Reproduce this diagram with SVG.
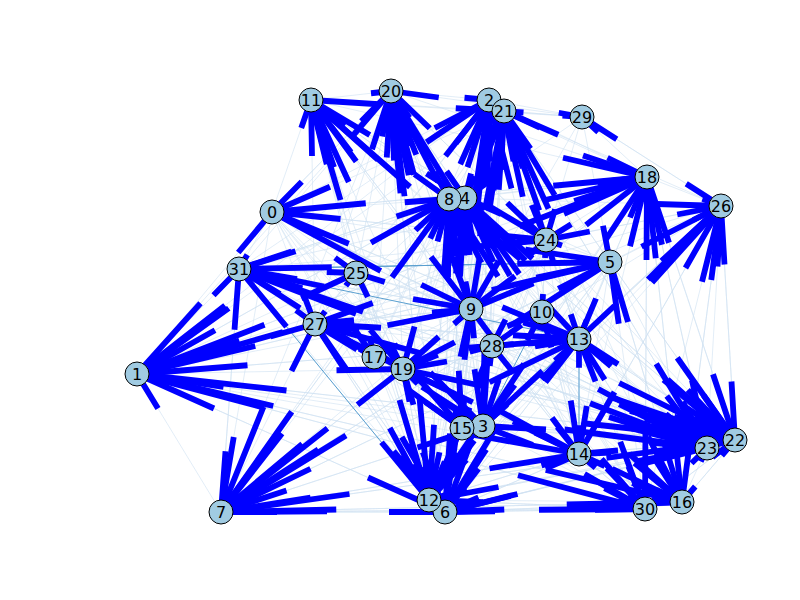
<svg xmlns="http://www.w3.org/2000/svg" xmlns:xlink="http://www.w3.org/1999/xlink" width="800" height="600" viewBox="0 0 800 600">
<style>
.thin{fill:none;stroke:#cfe1f2;stroke-width:1;stroke-opacity:.6}
.thind{fill:none;stroke:#5a9fcf;stroke-width:1}
.stub{fill:none;stroke:#0000ff;stroke-width:5.8;stroke-dasharray:0 3 1 0;stroke-linecap:butt}
.node circle{fill:#a0cbe2;stroke:#000;stroke-width:1}
.node text{font-family:"DejaVu Sans",Verdana,sans-serif;font-size:16px;text-anchor:middle;fill:#000}
</style>
<defs>
<g id="E1">
<path pathLength="4" d="M391 91L272 212"/><path pathLength="4" d="M504 111L272 212"/><path pathLength="4" d="M647 177L272 212"/><path pathLength="4" d="M546 240L272 212"/><path pathLength="4" d="M579 339L272 212"/><path pathLength="4" d="M137 374L272 212"/><path pathLength="4" d="M707 448L272 212"/><path pathLength="4" d="M471 309L272 212"/>
<path pathLength="4" d="M391 91L137 374"/><path pathLength="4" d="M504 111L137 374"/><path pathLength="4" d="M449 199L137 374"/><path pathLength="4" d="M647 177L137 374"/><path pathLength="4" d="M579 339L137 374"/><path pathLength="4" d="M735 440L137 374"/><path pathLength="4" d="M221 512L137 374"/><path pathLength="4" d="M445 512L137 374"/><path pathLength="4" d="M682 502L137 374"/><path pathLength="4" d="M610 262L137 374"/><path pathLength="4" d="M546 240L137 374"/><path pathLength="4" d="M721 206L137 374"/><path pathLength="4" d="M483 426L137 374"/><path pathLength="4" d="M645 509L137 374"/><path pathLength="4" d="M489 100L137 374"/>
<path pathLength="4" d="M391 91L489 100"/><path pathLength="4" d="M272 212L489 100"/><path pathLength="4" d="M239 269L489 100"/><path pathLength="4" d="M356 273L489 100"/><path pathLength="4" d="M374 357L489 100"/><path pathLength="4" d="M471 309L489 100"/><path pathLength="4" d="M492 346L489 100"/><path pathLength="4" d="M483 426L489 100"/><path pathLength="4" d="M429 500L489 100"/><path pathLength="4" d="M403 369L489 100"/><path pathLength="4" d="M579 454L489 100"/><path pathLength="4" d="M315 324L489 100"/><path pathLength="4" d="M462 428L489 100"/><path pathLength="4" d="M445 512L489 100"/>
<path pathLength="4" d="M504 111L483 426"/><path pathLength="4" d="M489 100L483 426"/><path pathLength="4" d="M449 199L483 426"/><path pathLength="4" d="M272 212L483 426"/><path pathLength="4" d="M239 269L483 426"/><path pathLength="4" d="M315 324L483 426"/><path pathLength="4" d="M579 339L483 426"/><path pathLength="4" d="M610 262L483 426"/><path pathLength="4" d="M721 206L483 426"/><path pathLength="4" d="M735 440L483 426"/><path pathLength="4" d="M682 502L483 426"/><path pathLength="4" d="M221 512L483 426"/><path pathLength="4" d="M647 177L483 426"/><path pathLength="4" d="M546 240L483 426"/>
<path pathLength="4" d="M311 100L465 198"/><path pathLength="4" d="M391 91L465 198"/><path pathLength="4" d="M489 100L465 198"/><path pathLength="4" d="M504 111L465 198"/><path pathLength="4" d="M582 117L465 198"/><path pathLength="4" d="M546 240L465 198"/><path pathLength="4" d="M610 262L465 198"/><path pathLength="4" d="M579 339L465 198"/><path pathLength="4" d="M492 346L465 198"/><path pathLength="4" d="M542 312L465 198"/><path pathLength="4" d="M483 426L465 198"/><path pathLength="4" d="M579 454L465 198"/><path pathLength="4" d="M645 509L465 198"/><path pathLength="4" d="M682 502L465 198"/><path pathLength="4" d="M707 448L465 198"/><path pathLength="4" d="M735 440L465 198"/><path pathLength="4" d="M445 512L465 198"/><path pathLength="4" d="M429 500L465 198"/><path pathLength="4" d="M462 428L465 198"/><path pathLength="4" d="M403 369L465 198"/><path pathLength="4" d="M471 309L465 198"/>
<path pathLength="4" d="M682 502L610 262"/><path pathLength="4" d="M645 509L610 262"/><path pathLength="4" d="M403 369L610 262"/><path pathLength="4" d="M582 117L610 262"/><path pathLength="4" d="M315 324L610 262"/><path pathLength="4" d="M137 374L610 262"/><path pathLength="4" d="M221 512L610 262"/><path pathLength="4" d="M272 212L610 262"/>
<path pathLength="4" d="M137 374L445 512"/><path pathLength="4" d="M221 512L445 512"/><path pathLength="4" d="M239 269L445 512"/><path pathLength="4" d="M315 324L445 512"/><path pathLength="4" d="M374 357L445 512"/><path pathLength="4" d="M356 273L445 512"/><path pathLength="4" d="M471 309L445 512"/><path pathLength="4" d="M272 212L445 512"/><path pathLength="4" d="M579 454L445 512"/><path pathLength="4" d="M735 440L445 512"/><path pathLength="4" d="M645 509L445 512"/><path pathLength="4" d="M682 502L445 512"/><path pathLength="4" d="M707 448L445 512"/><path pathLength="4" d="M579 339L445 512"/><path pathLength="4" d="M489 100L445 512"/><path pathLength="4" d="M504 111L445 512"/><path pathLength="4" d="M465 198L445 512"/><path pathLength="4" d="M647 177L445 512"/><path pathLength="4" d="M610 262L445 512"/><path pathLength="4" d="M546 240L445 512"/>
<path pathLength="4" d="M239 269L221 512"/><path pathLength="4" d="M272 212L221 512"/><path pathLength="4" d="M391 91L221 512"/><path pathLength="4" d="M504 111L221 512"/><path pathLength="4" d="M449 199L221 512"/><path pathLength="4" d="M465 198L221 512"/><path pathLength="4" d="M647 177L221 512"/><path pathLength="4" d="M610 262L221 512"/><path pathLength="4" d="M579 339L221 512"/><path pathLength="4" d="M546 240L221 512"/><path pathLength="4" d="M483 426L221 512"/><path pathLength="4" d="M735 440L221 512"/><path pathLength="4" d="M682 502L221 512"/><path pathLength="4" d="M445 512L221 512"/><path pathLength="4" d="M645 509L221 512"/><path pathLength="4" d="M579 454L221 512"/><path pathLength="4" d="M721 206L221 512"/>
<path pathLength="4" d="M311 100L449 199"/><path pathLength="4" d="M391 91L449 199"/><path pathLength="4" d="M272 212L449 199"/><path pathLength="4" d="M239 269L449 199"/><path pathLength="4" d="M315 324L449 199"/><path pathLength="4" d="M137 374L449 199"/><path pathLength="4" d="M374 357L449 199"/><path pathLength="4" d="M483 426L449 199"/><path pathLength="4" d="M462 428L449 199"/><path pathLength="4" d="M429 500L449 199"/><path pathLength="4" d="M445 512L449 199"/><path pathLength="4" d="M735 440L449 199"/><path pathLength="4" d="M645 509L449 199"/><path pathLength="4" d="M403 369L449 199"/><path pathLength="4" d="M221 512L449 199"/><path pathLength="4" d="M492 346L449 199"/><path pathLength="4" d="M471 309L449 199"/><path pathLength="4" d="M579 454L449 199"/>
<path pathLength="4" d="M391 91L471 309"/><path pathLength="4" d="M311 100L471 309"/><path pathLength="4" d="M449 199L471 309"/><path pathLength="4" d="M504 111L471 309"/><path pathLength="4" d="M239 269L471 309"/><path pathLength="4" d="M315 324L471 309"/><path pathLength="4" d="M403 369L471 309"/><path pathLength="4" d="M429 500L471 309"/><path pathLength="4" d="M445 512L471 309"/><path pathLength="4" d="M483 426L471 309"/><path pathLength="4" d="M579 454L471 309"/><path pathLength="4" d="M721 206L471 309"/><path pathLength="4" d="M647 177L471 309"/><path pathLength="4" d="M582 117L471 309"/><path pathLength="4" d="M137 374L471 309"/><path pathLength="4" d="M272 212L471 309"/>
<path pathLength="4" d="M546 240L542 312"/><path pathLength="4" d="M579 454L542 312"/><path pathLength="4" d="M403 369L542 312"/>
<path pathLength="4" d="M272 212L311 100"/><path pathLength="4" d="M315 324L311 100"/><path pathLength="4" d="M429 500L311 100"/><path pathLength="4" d="M462 428L311 100"/><path pathLength="4" d="M546 240L311 100"/><path pathLength="4" d="M582 117L311 100"/><path pathLength="4" d="M707 448L311 100"/><path pathLength="4" d="M579 339L311 100"/><path pathLength="4" d="M356 273L311 100"/><path pathLength="4" d="M471 309L311 100"/><path pathLength="4" d="M403 369L311 100"/><path pathLength="4" d="M374 357L311 100"/><path pathLength="4" d="M492 346L311 100"/><path pathLength="4" d="M449 199L311 100"/>
<path pathLength="4" d="M311 100L429 500"/><path pathLength="4" d="M272 212L429 500"/><path pathLength="4" d="M315 324L429 500"/><path pathLength="4" d="M374 357L429 500"/><path pathLength="4" d="M403 369L429 500"/><path pathLength="4" d="M356 273L429 500"/><path pathLength="4" d="M449 199L429 500"/><path pathLength="4" d="M471 309L429 500"/><path pathLength="4" d="M492 346L429 500"/><path pathLength="4" d="M391 91L429 500"/><path pathLength="4" d="M546 240L429 500"/><path pathLength="4" d="M579 339L429 500"/><path pathLength="4" d="M579 454L429 500"/><path pathLength="4" d="M645 509L429 500"/><path pathLength="4" d="M542 312L429 500"/><path pathLength="4" d="M647 177L429 500"/><path pathLength="4" d="M707 448L429 500"/><path pathLength="4" d="M610 262L429 500"/>
<path pathLength="4" d="M137 374L579 339"/><path pathLength="4" d="M272 212L579 339"/><path pathLength="4" d="M315 324L579 339"/><path pathLength="4" d="M356 273L579 339"/><path pathLength="4" d="M403 369L579 339"/><path pathLength="4" d="M374 357L579 339"/><path pathLength="4" d="M471 309L579 339"/><path pathLength="4" d="M449 199L579 339"/><path pathLength="4" d="M546 240L579 339"/><path pathLength="4" d="M610 262L579 339"/><path pathLength="4" d="M647 177L579 339"/><path pathLength="4" d="M721 206L579 339"/><path pathLength="4" d="M735 440L579 339"/><path pathLength="4" d="M707 448L579 339"/><path pathLength="4" d="M682 502L579 339"/><path pathLength="4" d="M579 454L579 339"/><path pathLength="4" d="M645 509L579 339"/><path pathLength="4" d="M429 500L579 339"/><path pathLength="4" d="M445 512L579 339"/><path pathLength="4" d="M221 512L579 339"/>
<path pathLength="4" d="M239 269L579 454"/><path pathLength="4" d="M315 324L579 454"/><path pathLength="4" d="M403 369L579 454"/><path pathLength="4" d="M471 309L579 454"/><path pathLength="4" d="M492 346L579 454"/><path pathLength="4" d="M735 440L579 454"/><path pathLength="4" d="M707 448L579 454"/><path pathLength="4" d="M682 502L579 454"/><path pathLength="4" d="M645 509L579 454"/><path pathLength="4" d="M445 512L579 454"/><path pathLength="4" d="M429 500L579 454"/><path pathLength="4" d="M137 374L579 454"/><path pathLength="4" d="M610 262L579 454"/><path pathLength="4" d="M721 206L579 454"/><path pathLength="4" d="M546 240L579 454"/><path pathLength="4" d="M221 512L579 454"/>
<path pathLength="4" d="M239 269L462 428"/><path pathLength="4" d="M315 324L462 428"/><path pathLength="4" d="M471 309L462 428"/><path pathLength="4" d="M492 346L462 428"/><path pathLength="4" d="M449 199L462 428"/><path pathLength="4" d="M272 212L462 428"/>
<path pathLength="4" d="M579 339L682 502"/><path pathLength="4" d="M579 454L682 502"/><path pathLength="4" d="M492 346L682 502"/><path pathLength="4" d="M403 369L682 502"/><path pathLength="4" d="M483 426L682 502"/><path pathLength="4" d="M471 309L682 502"/><path pathLength="4" d="M610 262L682 502"/><path pathLength="4" d="M546 240L682 502"/><path pathLength="4" d="M735 440L682 502"/><path pathLength="4" d="M647 177L682 502"/><path pathLength="4" d="M721 206L682 502"/><path pathLength="4" d="M137 374L682 502"/><path pathLength="4" d="M221 512L682 502"/><path pathLength="4" d="M445 512L682 502"/><path pathLength="4" d="M429 500L682 502"/>
<path pathLength="4" d="M272 212L374 357"/><path pathLength="4" d="M239 269L374 357"/><path pathLength="4" d="M315 324L374 357"/><path pathLength="4" d="M356 273L374 357"/><path pathLength="4" d="M471 309L374 357"/>
<path pathLength="4" d="M311 100L647 177"/><path pathLength="4" d="M391 91L647 177"/><path pathLength="4" d="M489 100L647 177"/><path pathLength="4" d="M239 269L647 177"/><path pathLength="4" d="M315 324L647 177"/><path pathLength="4" d="M403 369L647 177"/><path pathLength="4" d="M356 273L647 177"/><path pathLength="4" d="M579 454L647 177"/><path pathLength="4" d="M645 509L647 177"/><path pathLength="4" d="M707 448L647 177"/><path pathLength="4" d="M735 440L647 177"/><path pathLength="4" d="M682 502L647 177"/><path pathLength="4" d="M483 426L647 177"/><path pathLength="4" d="M579 339L647 177"/><path pathLength="4" d="M272 212L647 177"/><path pathLength="4" d="M449 199L647 177"/><path pathLength="4" d="M465 198L647 177"/><path pathLength="4" d="M137 374L647 177"/>
<path pathLength="4" d="M272 212L403 369"/><path pathLength="4" d="M239 269L403 369"/><path pathLength="4" d="M315 324L403 369"/><path pathLength="4" d="M137 374L403 369"/><path pathLength="4" d="M356 273L403 369"/><path pathLength="4" d="M471 309L403 369"/><path pathLength="4" d="M492 346L403 369"/><path pathLength="4" d="M579 339L403 369"/><path pathLength="4" d="M542 312L403 369"/><path pathLength="4" d="M483 426L403 369"/><path pathLength="4" d="M462 428L403 369"/><path pathLength="4" d="M429 500L403 369"/><path pathLength="4" d="M445 512L403 369"/><path pathLength="4" d="M221 512L403 369"/><path pathLength="4" d="M579 454L403 369"/><path pathLength="4" d="M546 240L403 369"/><path pathLength="4" d="M449 199L403 369"/><path pathLength="4" d="M735 440L403 369"/><path pathLength="4" d="M682 502L403 369"/><path pathLength="4" d="M610 262L403 369"/>
<path pathLength="4" d="M582 117L391 91"/><path pathLength="4" d="M311 100L391 91"/><path pathLength="4" d="M272 212L391 91"/><path pathLength="4" d="M239 269L391 91"/><path pathLength="4" d="M315 324L391 91"/><path pathLength="4" d="M449 199L391 91"/><path pathLength="4" d="M465 198L391 91"/><path pathLength="4" d="M471 309L391 91"/><path pathLength="4" d="M356 273L391 91"/><path pathLength="4" d="M374 357L391 91"/><path pathLength="4" d="M546 240L391 91"/><path pathLength="4" d="M492 346L391 91"/><path pathLength="4" d="M429 500L391 91"/><path pathLength="4" d="M445 512L391 91"/><path pathLength="4" d="M462 428L391 91"/><path pathLength="4" d="M483 426L391 91"/><path pathLength="4" d="M579 454L391 91"/><path pathLength="4" d="M645 509L391 91"/><path pathLength="4" d="M403 369L391 91"/>
<path pathLength="4" d="M311 100L504 111"/><path pathLength="4" d="M582 117L504 111"/><path pathLength="4" d="M721 206L504 111"/><path pathLength="4" d="M449 199L504 111"/><path pathLength="4" d="M465 198L504 111"/><path pathLength="4" d="M471 309L504 111"/><path pathLength="4" d="M492 346L504 111"/><path pathLength="4" d="M579 339L504 111"/><path pathLength="4" d="M542 312L504 111"/><path pathLength="4" d="M579 454L504 111"/><path pathLength="4" d="M483 426L504 111"/><path pathLength="4" d="M462 428L504 111"/><path pathLength="4" d="M546 240L504 111"/><path pathLength="4" d="M610 262L504 111"/><path pathLength="4" d="M647 177L504 111"/><path pathLength="4" d="M445 512L504 111"/><path pathLength="4" d="M645 509L504 111"/><path pathLength="4" d="M682 502L504 111"/><path pathLength="4" d="M707 448L504 111"/><path pathLength="4" d="M429 500L504 111"/><path pathLength="4" d="M403 369L504 111"/>
<path pathLength="4" d="M272 212L735 440"/><path pathLength="4" d="M239 269L735 440"/><path pathLength="4" d="M315 324L735 440"/><path pathLength="4" d="M403 369L735 440"/><path pathLength="4" d="M374 357L735 440"/><path pathLength="4" d="M471 309L735 440"/><path pathLength="4" d="M492 346L735 440"/><path pathLength="4" d="M579 339L735 440"/><path pathLength="4" d="M610 262L735 440"/><path pathLength="4" d="M647 177L735 440"/><path pathLength="4" d="M546 240L735 440"/><path pathLength="4" d="M483 426L735 440"/><path pathLength="4" d="M579 454L735 440"/><path pathLength="4" d="M429 500L735 440"/><path pathLength="4" d="M445 512L735 440"/><path pathLength="4" d="M645 509L735 440"/><path pathLength="4" d="M682 502L735 440"/><path pathLength="4" d="M462 428L735 440"/><path pathLength="4" d="M449 199L735 440"/><path pathLength="4" d="M465 198L735 440"/><path pathLength="4" d="M542 312L735 440"/><path pathLength="4" d="M721 206L735 440"/><path pathLength="4" d="M137 374L735 440"/><path pathLength="4" d="M221 512L735 440"/><path pathLength="4" d="M504 111L735 440"/>
<path pathLength="4" d="M315 324L707 448"/><path pathLength="4" d="M403 369L707 448"/><path pathLength="4" d="M471 309L707 448"/><path pathLength="4" d="M492 346L707 448"/><path pathLength="4" d="M579 339L707 448"/><path pathLength="4" d="M546 240L707 448"/><path pathLength="4" d="M610 262L707 448"/><path pathLength="4" d="M647 177L707 448"/><path pathLength="4" d="M579 454L707 448"/><path pathLength="4" d="M483 426L707 448"/><path pathLength="4" d="M429 500L707 448"/><path pathLength="4" d="M645 509L707 448"/><path pathLength="4" d="M682 502L707 448"/><path pathLength="4" d="M542 312L707 448"/><path pathLength="4" d="M239 269L707 448"/><path pathLength="4" d="M272 212L707 448"/><path pathLength="4" d="M356 273L707 448"/><path pathLength="4" d="M137 374L707 448"/><path pathLength="4" d="M445 512L707 448"/><path pathLength="4" d="M504 111L707 448"/>
<path pathLength="4" d="M489 100L546 240"/><path pathLength="4" d="M504 111L546 240"/><path pathLength="4" d="M391 91L546 240"/><path pathLength="4" d="M311 100L546 240"/><path pathLength="4" d="M272 212L546 240"/><path pathLength="4" d="M239 269L546 240"/><path pathLength="4" d="M471 309L546 240"/><path pathLength="4" d="M579 339L546 240"/><path pathLength="4" d="M610 262L546 240"/><path pathLength="4" d="M647 177L546 240"/><path pathLength="4" d="M542 312L546 240"/><path pathLength="4" d="M721 206L546 240"/><path pathLength="4" d="M582 117L546 240"/>
<path pathLength="4" d="M272 212L356 273"/><path pathLength="4" d="M239 269L356 273"/><path pathLength="4" d="M315 324L356 273"/><path pathLength="4" d="M471 309L356 273"/><path pathLength="4" d="M403 369L356 273"/><path pathLength="4" d="M137 374L356 273"/>
<path pathLength="4" d="M582 117L721 206"/><path pathLength="4" d="M647 177L721 206"/><path pathLength="4" d="M465 198L721 206"/><path pathLength="4" d="M546 240L721 206"/><path pathLength="4" d="M445 512L721 206"/><path pathLength="4" d="M483 426L721 206"/><path pathLength="4" d="M645 509L721 206"/><path pathLength="4" d="M682 502L721 206"/><path pathLength="4" d="M735 440L721 206"/><path pathLength="4" d="M707 448L721 206"/><path pathLength="4" d="M403 369L721 206"/><path pathLength="4" d="M579 339L721 206"/><path pathLength="4" d="M579 454L721 206"/><path pathLength="4" d="M610 262L721 206"/><path pathLength="4" d="M429 500L721 206"/>
<path pathLength="4" d="M272 212L315 324"/><path pathLength="4" d="M239 269L315 324"/><path pathLength="4" d="M137 374L315 324"/><path pathLength="4" d="M221 512L315 324"/><path pathLength="4" d="M445 512L315 324"/><path pathLength="4" d="M429 500L315 324"/><path pathLength="4" d="M471 309L315 324"/><path pathLength="4" d="M579 339L315 324"/><path pathLength="4" d="M492 346L315 324"/><path pathLength="4" d="M403 369L315 324"/><path pathLength="4" d="M735 440L315 324"/><path pathLength="4" d="M483 426L315 324"/><path pathLength="4" d="M579 454L315 324"/><path pathLength="4" d="M546 240L315 324"/><path pathLength="4" d="M356 273L315 324"/>
<path pathLength="4" d="M403 369L492 346"/><path pathLength="4" d="M471 309L492 346"/><path pathLength="4" d="M579 339L492 346"/><path pathLength="4" d="M579 454L492 346"/><path pathLength="4" d="M483 426L492 346"/><path pathLength="4" d="M445 512L492 346"/><path pathLength="4" d="M429 500L492 346"/><path pathLength="4" d="M546 240L492 346"/><path pathLength="4" d="M610 262L492 346"/>
<path pathLength="4" d="M504 111L582 117"/><path pathLength="4" d="M721 206L582 117"/><path pathLength="4" d="M647 177L582 117"/><path pathLength="4" d="M489 100L582 117"/>
<path pathLength="4" d="M579 339L645 509"/><path pathLength="4" d="M579 454L645 509"/><path pathLength="4" d="M492 346L645 509"/><path pathLength="4" d="M483 426L645 509"/><path pathLength="4" d="M471 309L645 509"/><path pathLength="4" d="M445 512L645 509"/><path pathLength="4" d="M429 500L645 509"/><path pathLength="4" d="M221 512L645 509"/><path pathLength="4" d="M735 440L645 509"/><path pathLength="4" d="M682 502L645 509"/><path pathLength="4" d="M707 448L645 509"/><path pathLength="4" d="M403 369L645 509"/><path pathLength="4" d="M546 240L645 509"/><path pathLength="4" d="M137 374L645 509"/><path pathLength="4" d="M647 177L645 509"/>
<path pathLength="4" d="M137 374L239 269"/><path pathLength="4" d="M221 512L239 269"/><path pathLength="4" d="M429 500L239 269"/><path pathLength="4" d="M465 198L239 269"/><path pathLength="4" d="M449 199L239 269"/><path pathLength="4" d="M735 440L239 269"/><path pathLength="4" d="M272 212L239 269"/><path pathLength="4" d="M492 346L239 269"/><path pathLength="4" d="M471 309L239 269"/><path pathLength="4" d="M403 369L239 269"/><path pathLength="4" d="M483 426L239 269"/><path pathLength="4" d="M707 448L239 269"/>
</g>
<g id="E2">
<path pathLength="4" d="M483 426L542 312"/><path pathLength="4" d="M239 269L429 500"/><path pathLength="4" d="M483 426L579 339"/><path pathLength="4" d="M579 339L579 454"/><path pathLength="4" d="M239 269L610 262"/><path pathLength="4" d="M610 262L239 269"/><path pathLength="4" d="M579 339L239 269"/>
</g>
</defs>
<rect width="800" height="600" fill="#ffffff"/>
<g id="edges">
<use xlink:href="#E1" href="#E1" class="thin"/>
<use xlink:href="#E2" href="#E2" class="thind"/>
<use xlink:href="#E1" href="#E1" class="stub"/>
<use xlink:href="#E2" href="#E2" class="stub"/>
</g>
<g id="nodes">
<g id="n0" class="node"><circle cx="272" cy="212" r="12"/><text x="272" y="218">0</text></g>
<g id="n1" class="node"><circle cx="137" cy="374" r="12"/><text x="137" y="380">1</text></g>
<g id="n2" class="node"><circle cx="489" cy="100" r="12"/><text x="489" y="106">2</text></g>
<g id="n3" class="node"><circle cx="483" cy="426" r="12"/><text x="483" y="432">3</text></g>
<g id="n4" class="node"><circle cx="465" cy="198" r="12"/><text x="465" y="204">4</text></g>
<g id="n5" class="node"><circle cx="610" cy="262" r="12"/><text x="610" y="268">5</text></g>
<g id="n6" class="node"><circle cx="445" cy="512" r="12"/><text x="445" y="518">6</text></g>
<g id="n7" class="node"><circle cx="221" cy="512" r="12"/><text x="221" y="518">7</text></g>
<g id="n8" class="node"><circle cx="449" cy="199" r="12"/><text x="449" y="205">8</text></g>
<g id="n9" class="node"><circle cx="471" cy="309" r="12"/><text x="471" y="315">9</text></g>
<g id="n10" class="node"><circle cx="542" cy="312" r="12"/><text x="542" y="318">10</text></g>
<g id="n11" class="node"><circle cx="311" cy="100" r="12"/><text x="311" y="106">11</text></g>
<g id="n12" class="node"><circle cx="429" cy="500" r="12"/><text x="429" y="506">12</text></g>
<g id="n13" class="node"><circle cx="579" cy="339" r="12"/><text x="579" y="345">13</text></g>
<g id="n14" class="node"><circle cx="579" cy="454" r="12"/><text x="579" y="460">14</text></g>
<g id="n15" class="node"><circle cx="462" cy="428" r="12"/><text x="462" y="434">15</text></g>
<g id="n16" class="node"><circle cx="682" cy="502" r="12"/><text x="682" y="508">16</text></g>
<g id="n17" class="node"><circle cx="374" cy="357" r="12"/><text x="374" y="363">17</text></g>
<g id="n18" class="node"><circle cx="647" cy="177" r="12"/><text x="647" y="183">18</text></g>
<g id="n19" class="node"><circle cx="403" cy="369" r="12"/><text x="403" y="375">19</text></g>
<g id="n20" class="node"><circle cx="391" cy="91" r="12"/><text x="391" y="97">20</text></g>
<g id="n21" class="node"><circle cx="504" cy="111" r="12"/><text x="504" y="117">21</text></g>
<g id="n22" class="node"><circle cx="735" cy="440" r="12"/><text x="735" y="446">22</text></g>
<g id="n23" class="node"><circle cx="707" cy="448" r="12"/><text x="707" y="454">23</text></g>
<g id="n24" class="node"><circle cx="546" cy="240" r="12"/><text x="546" y="246">24</text></g>
<g id="n25" class="node"><circle cx="356" cy="273" r="12"/><text x="356" y="279">25</text></g>
<g id="n26" class="node"><circle cx="721" cy="206" r="12"/><text x="721" y="212">26</text></g>
<g id="n27" class="node"><circle cx="315" cy="324" r="12"/><text x="315" y="330">27</text></g>
<g id="n28" class="node"><circle cx="492" cy="346" r="12"/><text x="492" y="352">28</text></g>
<g id="n29" class="node"><circle cx="582" cy="117" r="12"/><text x="582" y="123">29</text></g>
<g id="n30" class="node"><circle cx="645" cy="509" r="12"/><text x="645" y="515">30</text></g>
<g id="n31" class="node"><circle cx="239" cy="269" r="12"/><text x="239" y="275">31</text></g>
</g>
</svg>
